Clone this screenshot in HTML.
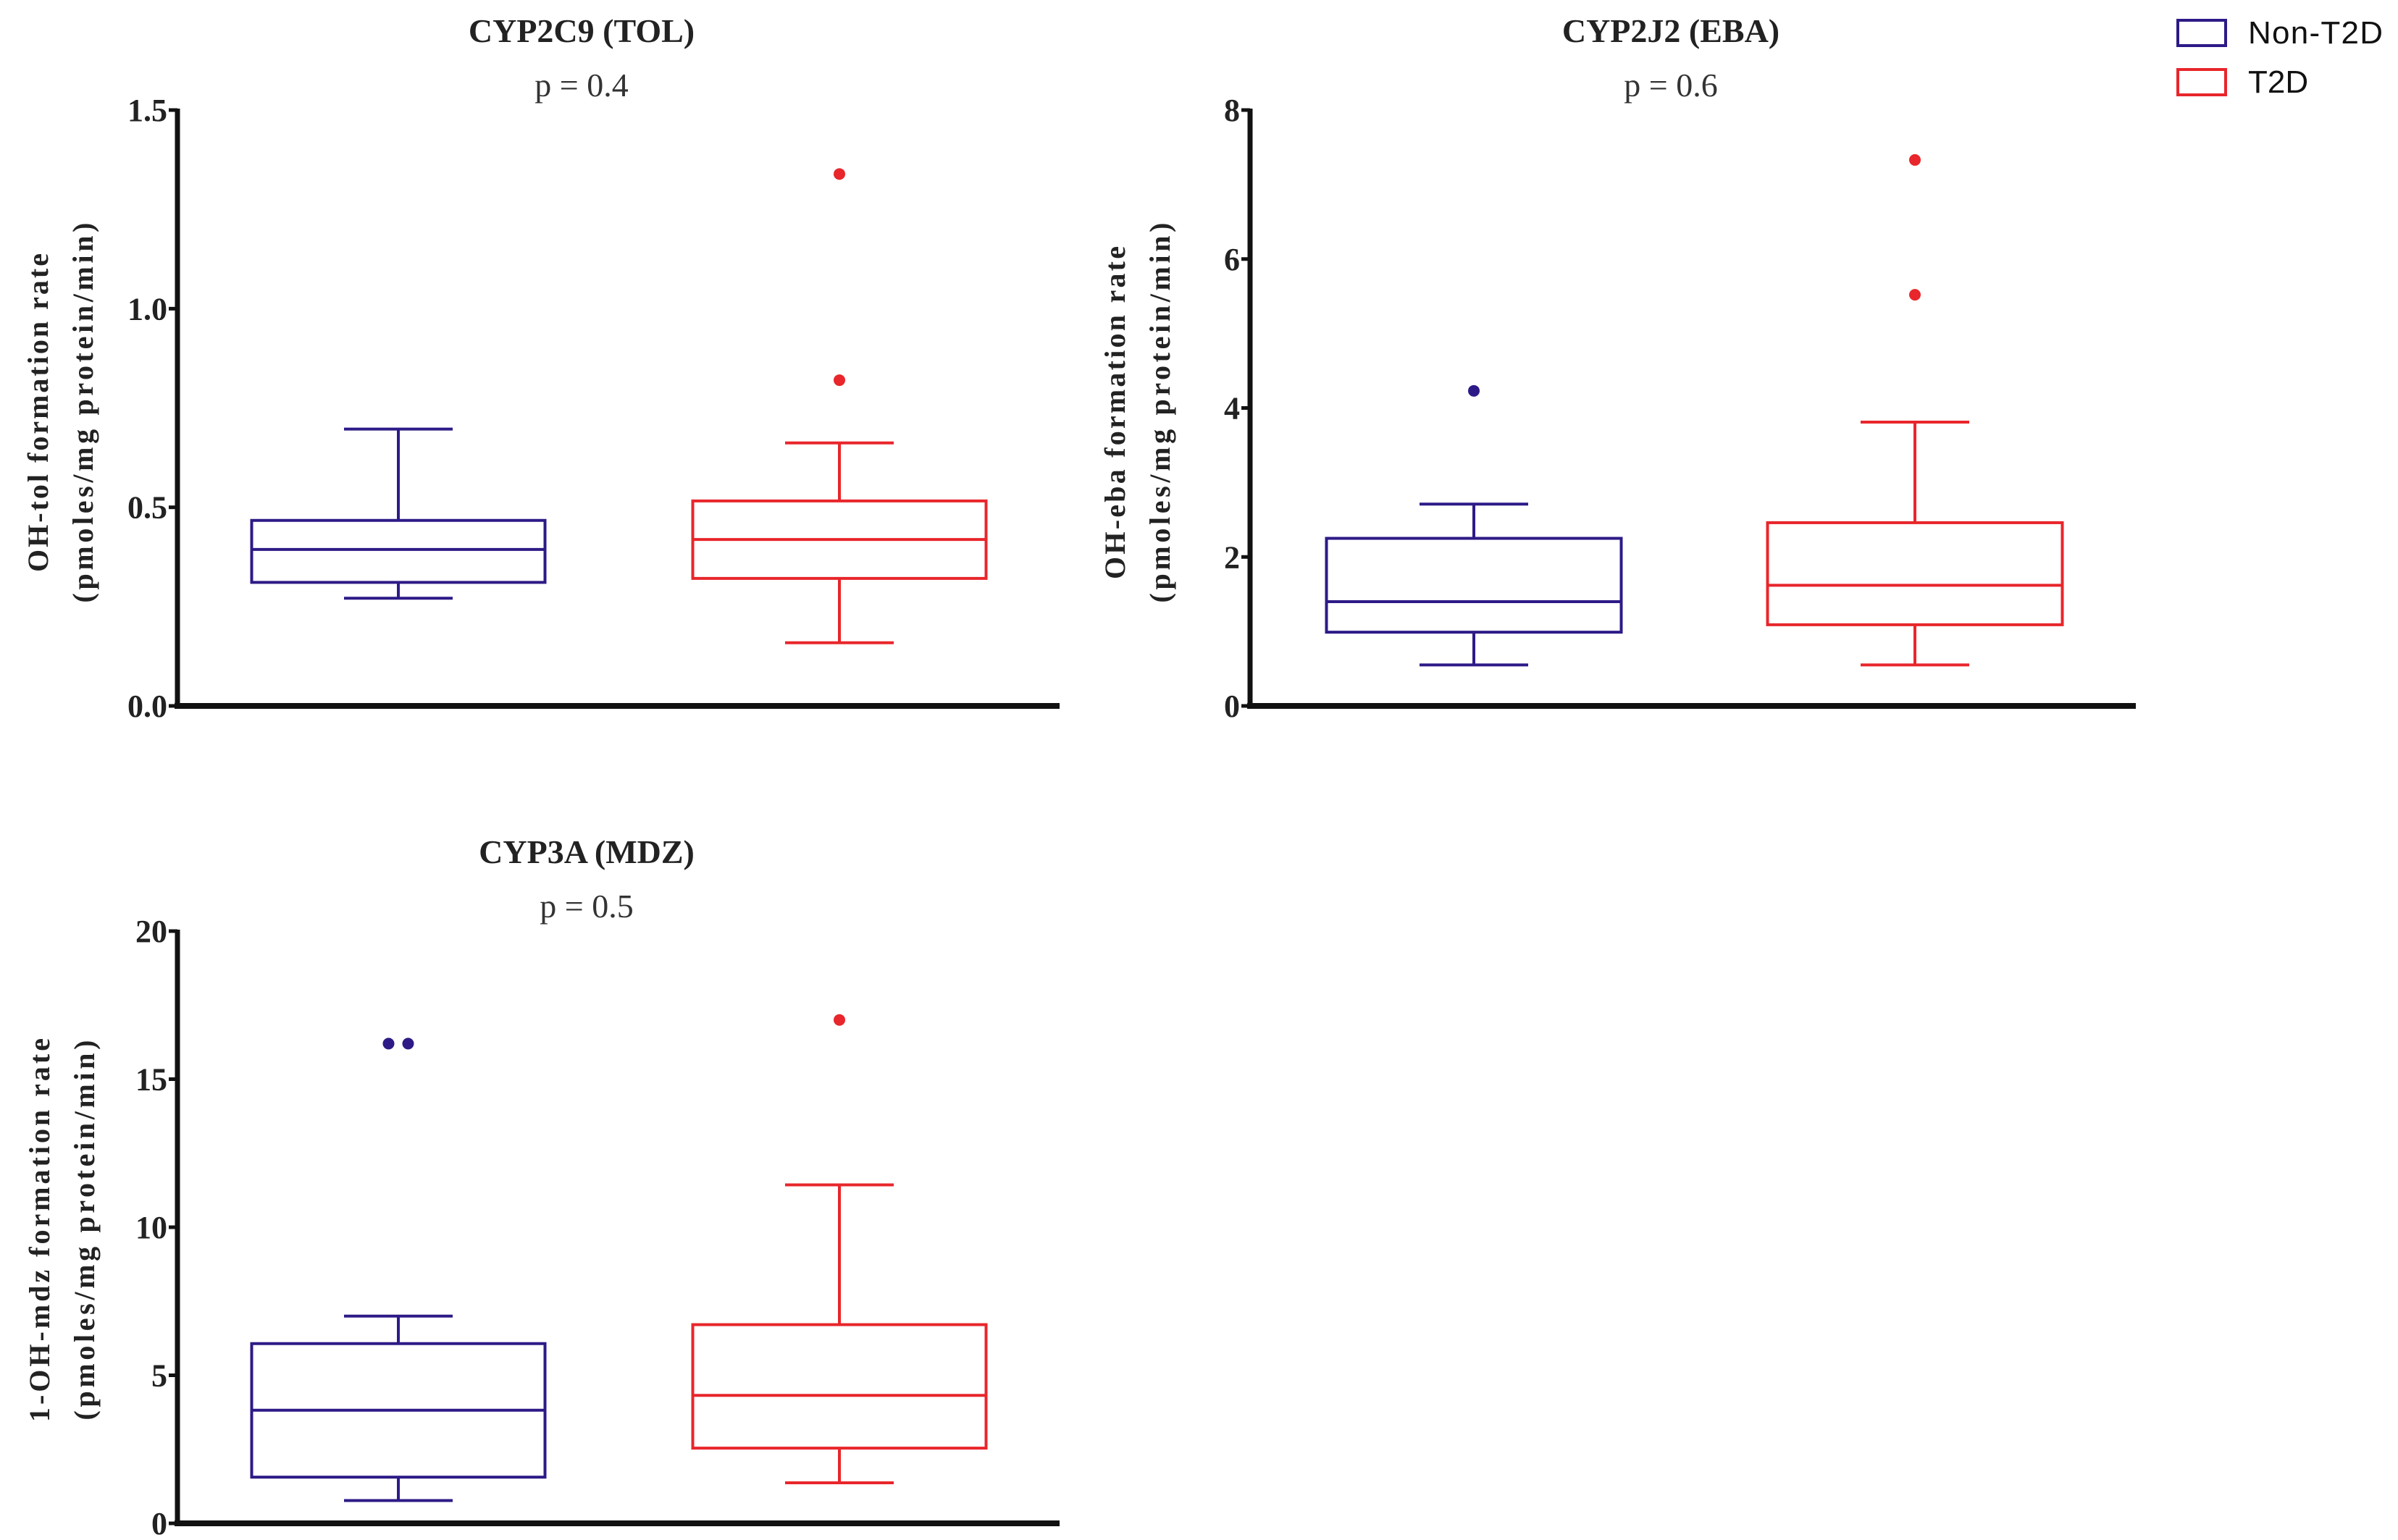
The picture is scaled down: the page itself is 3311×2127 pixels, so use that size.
<!DOCTYPE html>
<html><head><meta charset="utf-8"><style>
html,body{margin:0;padding:0;background:#fff;}
svg{display:block;}
</style></head><body>
<svg id="fig" width="3311" height="2127" viewBox="0 0 3311 2127" xmlns="http://www.w3.org/2000/svg">
<g>
  <rect x="3007" y="28" width="66" height="35" fill="none" stroke="#2e1a87" stroke-width="4"/>
  <text x="3104" y="60" font-family="Liberation Sans, sans-serif" font-size="44" textLength="186" fill="#111">Non-T2D</text>
  <rect x="3007" y="96" width="66" height="35" fill="none" stroke="#e8262b" stroke-width="4"/>
  <text x="3104" y="128" font-family="Liberation Sans, sans-serif" font-size="44" fill="#111">T2D</text>
</g>
</svg>
<script>
// Panel 1: CYP2C9 (TOL)
const p1Ticks = [0, 0.5, 1.0, 1.5];
const p1TickLabels = ["0.0", "0.5", "1.0", "1.5"];
const p1Groups = ["Non-T2D", "T2D"];
const p1Low = [0.271, 0.159];
const p1Q1 = [0.311, 0.321];
const p1Median = [0.394, 0.419];
const p1Q3 = [0.467, 0.516];
const p1High = [0.697, 0.662];
const p1Outliers = [[], [1.339, 0.820]];
// Panel 2: CYP2J2 (EBA)
const p2Ticks = [0, 2, 4, 6, 8];
const p2TickLabels = ["0", "2", "4", "6", "8"];
const p2Groups = ["Non-T2D", "T2D"];
const p2Low = [0.55, 0.55];
const p2Q1 = [0.99, 1.09];
const p2Median = [1.40, 1.62];
const p2Q3 = [2.25, 2.46];
const p2High = [2.71, 3.81];
const p2Outliers = [[4.23], [7.33, 5.52]];
// Panel 3: CYP3A (MDZ)
const p3Ticks = [0, 5, 10, 15, 20];
const p3TickLabels = ["0", "5", "10", "15", "20"];
const p3Groups = ["Non-T2D", "T2D"];
const p3Low = [0.77, 1.37];
const p3Q1 = [1.56, 2.54];
const p3Median = [3.82, 4.32];
const p3Q3 = [6.07, 6.71];
const p3High = [7.0, 11.43];
const p3Outliers = [[16.2, 16.2], [17.0]];

const NS = "http://www.w3.org/2000/svg";
const svg = document.getElementById("fig");
const COLORS = ["#2e1a87", "#e8262b"];
function mk(tag, attrs, parent) {
  const e = document.createElementNS(NS, tag);
  for (const k in attrs) e.setAttribute(k, attrs[k]);
  parent.appendChild(e);
  return e;
}
function panel(cfg) {
  const g = mk("g", {}, svg);
  
  
  const ymax = cfg.ticks[cfg.ticks.length - 1];
  const y = v => cfg.y0 - (v / ymax) * (cfg.y0 - cfg.yTop);
  const serif = "Liberation Serif, serif";
  const t = mk("text", {x: cfg.titleX, y: cfg.titleY, "text-anchor": "middle", "font-family": serif, "font-weight": "bold", "font-size": 46, fill: "#222"}, g);
  t.textContent = cfg.title;
  
  
  const p = mk("text", {x: cfg.titleX, y: cfg.titleY + 75, "text-anchor": "middle", "font-family": serif, "font-size": 46, fill: "#333"}, g);
  p.textContent = cfg.pval;
  
  
  const yl = mk("text", {transform: `translate(${cfg.labX},${cfg.labY}) rotate(-90)`, "text-anchor": "middle", "font-family": serif, "font-weight": "bold", "font-size": 40, fill: "#222", textLength: cfg.labLen1, lengthAdjust: "spacing"}, g);
  yl.textContent = cfg.ylabel;
  
  
  const yl2 = mk("text", {transform: `translate(${cfg.labX + 62},${cfg.labY}) rotate(-90)`, "text-anchor": "middle", "font-family": serif, "font-weight": "bold", "font-size": 40, fill: "#222", textLength: 525, lengthAdjust: "spacing"}, g);
  yl2.textContent = "(pmoles/mg protein/min)";
  
  
  const ax = mk("line", {x1: cfg.ax, y1: cfg.yTop - 2, x2: cfg.ax, y2: cfg.y0 + 4, stroke: "#111", "stroke-width": 7}, g);
  
  
  const bx = mk("line", {x1: cfg.ax - 4, y1: cfg.y0, x2: cfg.xEnd, y2: cfg.y0, stroke: "#111", "stroke-width": 8}, g);
  
  
  cfg.ticks.forEach((v, i) => {
    const tk = mk("line", {x1: cfg.ax - 12, y1: y(v), x2: cfg.ax, y2: y(v), stroke: "#111", "stroke-width": 5}, g);
    
    
    const tl = mk("text", {x: cfg.ax - 14, y: y(v) + 15, "text-anchor": "end", "font-family": serif, "font-weight": "bold", "font-size": 44, fill: "#222"}, g);
    tl.textContent = cfg.tickLabels[i];
    
    
  });
  cfg.groups.forEach((name, i) => {
    const c = COLORS[i];
    const cx = cfg.centers[i], hw = cfg.boxW / 2, cw = 75;
    const bg = mk("g", {stroke: c, "stroke-width": 4, fill: "none"}, g);
    
    
    const w1 = mk("line", {x1: cx, y1: y(cfg.high[i]), x2: cx, y2: y(cfg.q3[i])}, bg);
    
    
    const c1 = mk("line", {x1: cx - cw, y1: y(cfg.high[i]), x2: cx + cw, y2: y(cfg.high[i])}, bg);
    
    
    const w2 = mk("line", {x1: cx, y1: y(cfg.q1[i]), x2: cx, y2: y(cfg.low[i])}, bg);
    
    
    const c2 = mk("line", {x1: cx - cw, y1: y(cfg.low[i]), x2: cx + cw, y2: y(cfg.low[i])}, bg);
    
    
    const r = mk("rect", {x: cx - hw, y: y(cfg.q3[i]), width: cfg.boxW, height: y(cfg.q1[i]) - y(cfg.q3[i])}, bg);
    
    
    const m = mk("line", {x1: cx - hw, y1: y(cfg.median[i]), x2: cx + hw, y2: y(cfg.median[i])}, bg);
    
    
    const outs = cfg.outliers[i];
    outs.forEach((v, j) => {
      const off = outs.length > 1 && outs.every(o => o === outs[0]) ? (j - (outs.length - 1) / 2) * 27 : 0;
      const d = mk("circle", {cx: cx + off, cy: y(v), r: 8, fill: c, stroke: "none"}, g);
      
      
    });
  });
}
panel({id: "panel-cyp2c9", title: "CYP2C9 (TOL)", pval: "p = 0.4", titleX: 803, titleY: 58,
  ylabel: "OH-tol formation rate", labX: 66, labY: 570, labLen1: 440,
  ax: 245, xEnd: 1463, yTop: 152, y0: 975, centers: [550, 1159], boxW: 405,
  ticks: p1Ticks, tickLabels: p1TickLabels, groups: p1Groups,
  low: p1Low, q1: p1Q1, median: p1Median, q3: p1Q3, high: p1High, outliers: p1Outliers});
panel({id: "panel-cyp2j2", title: "CYP2J2 (EBA)", pval: "p = 0.6", titleX: 2307, titleY: 58,
  ylabel: "OH-eba formation rate", labX: 1553, labY: 570, labLen1: 460,
  ax: 1726, xEnd: 2949, yTop: 152, y0: 975, centers: [2035, 2644], boxW: 407,
  ticks: p2Ticks, tickLabels: p2TickLabels, groups: p2Groups,
  low: p2Low, q1: p2Q1, median: p2Median, q3: p2Q3, high: p2High, outliers: p2Outliers});
panel({id: "panel-cyp3a", title: "CYP3A (MDZ)", pval: "p = 0.5", titleX: 810, titleY: 1192,
  ylabel: "1-OH-mdz formation rate", labX: 68, labY: 1699, labLen1: 530,
  ax: 245, xEnd: 1463, yTop: 1286, y0: 2104, centers: [550, 1159], boxW: 405,
  ticks: p3Ticks, tickLabels: p3TickLabels, groups: p3Groups,
  low: p3Low, q1: p3Q1, median: p3Median, q3: p3Q3, high: p3High, outliers: p3Outliers});
</script>
</body></html>
